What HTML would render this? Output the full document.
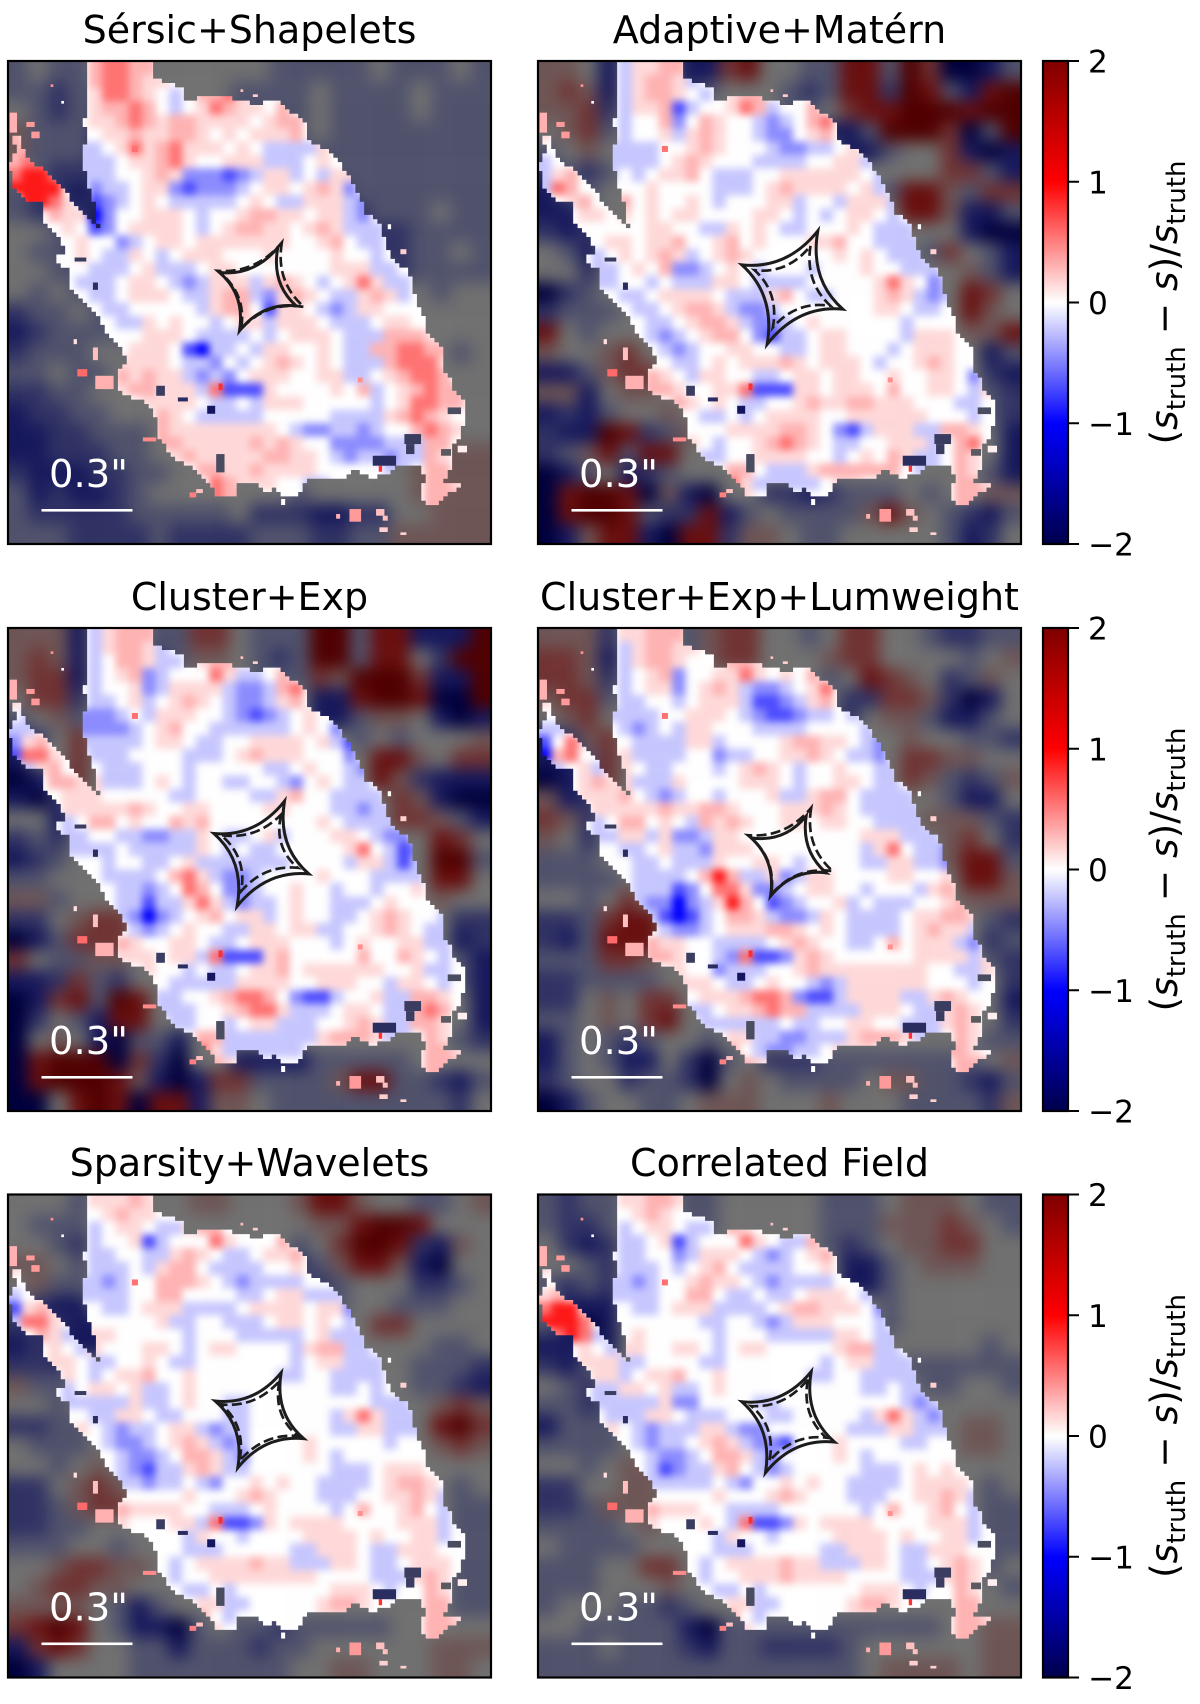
<!DOCTYPE html>
<html lang="en">
<head>
<meta charset="utf-8">
<title>Source residual maps</title>
<style>
html,body{margin:0;padding:0;background:#fff;width:1200px;height:1704px;overflow:hidden}
svg{display:block}
text{font-family:"DejaVu Sans","Liberation Sans",sans-serif}
.title{font-size:38px;fill:#000;text-anchor:middle}
.bar-text{font-size:38.5px;fill:#fff}
.tick{font-size:31.2px;fill:#000}
.axis-label{font-size:37.5px;fill:#000;text-anchor:middle}
.frame{fill:none;stroke:#000;stroke-width:2.2}
</style>
</head>
<body>
<svg id="figure" xmlns="http://www.w3.org/2000/svg" width="1200" height="1704" viewBox="0 0 1200 1704">
<defs>
<filter id="blur-bg" filterUnits="userSpaceOnUse" x="-200" y="-200" width="1850" height="1850" color-interpolation-filters="sRGB"><feGaussianBlur stdDeviation="24"/></filter>
<filter id="blur-fg" filterUnits="userSpaceOnUse" x="-200" y="-200" width="1850" height="1850" color-interpolation-filters="sRGB"><feGaussianBlur stdDeviation="12"/></filter>
<clipPath id="panel-clip"><rect x="0" y="0" width="1450" height="1450"/></clipPath>
<clipPath id="source-clip"><polygon id="source-outline" points="235,5 440,5 438,50 485,68 530,85 535,125 565,112 590,100 690,115 730,118 735,140 770,125 820,125 840,150 890,175 895,235 960,265 1000,310 1035,365 1065,430 1070,465 1110,470 1120,510 1140,560 1150,590 1200,630 1215,670 1230,740 1255,770 1260,815 1305,870 1310,930 1330,960 1340,990 1375,1020 1365,1110 1340,1150 1335,1190 1325,1240 1310,1262 1360,1275 1310,1310 1275,1340 1240,1310 1250,1250 1230,1210 1175,1215 1135,1240 1095,1250 1040,1230 1010,1255 900,1255 870,1300 830,1305 800,1280 770,1295 740,1265 690,1265 690,1300 630,1310 600,1260 550,1215 500,1195 450,1130 440,1045 405,1020 340,1000 325,930 355,905 345,870 300,825 270,760 180,680 180,620 145,610 145,580 175,580 160,545 130,500 110,480 110,425 60,425 10,380 5,300 25,265 10,235 45,215 35,245 60,295 100,320 150,370 215,445 250,480 290,520 262,480 262,430 240,370 222,300 220,265 245,235 230,190 240,60"/></clipPath>
<g id="source-specks">
<rect x="262" y="945" width="55" height="40" fill="#ffb0b0"/>
<rect x="208" y="925" width="30" height="22" fill="#ff6a6a"/>
<rect x="1025" y="1345" width="35" height="38" fill="#ff9a9a"/>
<rect x="1105" y="1345" width="25" height="20" fill="#ffc0c0"/>
<rect x="1125" y="1365" width="15" height="15" fill="#ffc0c0"/>
<rect x="1115" y="1400" width="25" height="14" fill="#ffd0d0"/>
<rect x="1178" y="1415" width="18" height="8" fill="#ffd0d0"/>
<rect x="985" y="1360" width="12" height="14" fill="#ffb0b0"/>
<rect x="55" y="183" width="25" height="15" fill="#ff9a9a"/>
<rect x="70" y="212" width="25" height="20" fill="#ff9a9a"/>
<rect x="5" y="155" width="22" height="60" fill="#ffb0b0"/>
<rect x="405" y="1130" width="40" height="12" fill="#ff8a8a"/>
<rect x="545" y="1295" width="20" height="15" fill="#ff8080"/>
<rect x="565" y="1285" width="20" height="12" fill="#ffc0c0"/>
<rect x="820" y="1315" width="12" height="18" fill="#ffffff"/>
<rect x="1140" y="490" width="10" height="15" fill="#ffffff"/>
<rect x="1178" y="565" width="18" height="15" fill="#ffd0d0"/>
<rect x="197" y="835" width="10" height="15" fill="#ffe0e0"/>
<rect x="255" y="860" width="15" height="38" fill="#ffc0c0"/>
<rect x="1350" y="1155" width="28" height="20" fill="#ffeeee"/>
<rect x="128" y="70" width="8" height="8" fill="#ff9090"/>
<rect x="160" y="120" width="8" height="8" fill="#ffffff"/>
<rect x="698" y="85" width="8" height="8" fill="#ffc0c0"/>
<rect x="735" y="100" width="15" height="8" fill="#ffd0d0"/>
<rect x="632" y="968" width="12" height="20" fill="#ff3030"/>
<rect x="1113" y="1215" width="10" height="18" fill="#ff3030"/>
<rect x="1050" y="950" width="15" height="15" fill="#ff9090"/>
<rect x="372" y="255" width="18" height="18" fill="#ff7070"/>
<rect x="445" y="975" width="26" height="30" fill="#3a3d60"/>
<rect x="510" y="1010" width="30" height="12" fill="#2a2d60"/>
<rect x="598" y="1035" width="24" height="24" fill="#151560"/>
<rect x="1190" y="1120" width="50" height="30" fill="#3a3d60"/>
<rect x="1195" y="1150" width="25" height="30" fill="#3a3d60"/>
<rect x="1095" y="1185" width="70" height="30" fill="#2a2d60"/>
<rect x="625" y="1180" width="25" height="55" fill="#4a4c60"/>
<rect x="200" y="590" width="35" height="12" fill="#3a3d60"/>
<rect x="255" y="665" width="15" height="22" fill="#2a2d60"/>
<rect x="1320" y="1040" width="40" height="20" fill="#4a4c60"/>
<rect x="1300" y="1165" width="30" height="20" fill="#5a5a60"/>
</g>
<linearGradient id="seismic-gradient" x1="0" y1="0" x2="0" y2="1">
<stop offset="0" stop-color="#7f0000"/>
<stop offset="0.25" stop-color="#ff0000"/>
<stop offset="0.5" stop-color="#ffffff"/>
<stop offset="0.75" stop-color="#0000ff"/>
<stop offset="1" stop-color="#00004c"/>
</linearGradient>
</defs>

<g id="panel-layer"></g>

<text class="title" x="249.5" y="43">Sérsic+Shapelets</text>
<text class="title" x="779.5" y="43">Adaptive+Matérn</text>
<text class="title" x="249.5" y="610">Cluster+Exp</text>
<text class="title" x="779.5" y="610">Cluster+Exp+Lumweight</text>
<text class="title" x="249.5" y="1176">Sparsity+Wavelets</text>
<text class="title" x="779.5" y="1176">Correlated Field</text>

<text class="bar-text" x="49" y="487">0.3"</text>
<text class="bar-text" x="579" y="487">0.3"</text>
<text class="bar-text" x="49" y="1054">0.3"</text>
<text class="bar-text" x="579" y="1054">0.3"</text>
<text class="bar-text" x="49" y="1620.5">0.3"</text>
<text class="bar-text" x="579" y="1620.5">0.3"</text>

<g id="colorbar-layer"></g>

<g transform="translate(1177,302.5) rotate(-90)"><text class="axis-label">(<tspan font-style="italic">s</tspan><tspan font-size="26" dy="8">truth</tspan><tspan dy="-8"> − </tspan><tspan font-style="italic">s</tspan>)/<tspan font-style="italic">s</tspan><tspan font-size="26" dy="8">truth</tspan></text></g>
<g transform="translate(1177,869.5) rotate(-90)"><text class="axis-label">(<tspan font-style="italic">s</tspan><tspan font-size="26" dy="8">truth</tspan><tspan dy="-8"> − </tspan><tspan font-style="italic">s</tspan>)/<tspan font-style="italic">s</tspan><tspan font-size="26" dy="8">truth</tspan></text></g>
<g transform="translate(1177,1436) rotate(-90)"><text class="axis-label">(<tspan font-style="italic">s</tspan><tspan font-size="26" dy="8">truth</tspan><tspan dy="-8"> − </tspan><tspan font-style="italic">s</tspan>)/<tspan font-style="italic">s</tspan><tspan font-size="26" dy="8">truth</tspan></text></g>
</svg>

<script>
// Colour-scale ticks and cell code levels
const colorbarTicks = [-2, -1, 0, 1, 2];
const tickLabels = ["\u22122", "\u22121", "0", "1", "2"];
const sourceLevels = [-1, -0.7, -0.45, -0.22, 0, 0.15, 0.3, 0.55, 0.9];
const skyLevels = [-3, -2, -1.4, -0.7, 0, 0.7, 1.4, 2, 3];

// Sky (outside the source mask) residual codes, 24 x 24
const skySersic = ["343344444444433333433343","332334444443333433334333","432333444443333433334333","533323444443333433333333","533322444444333333333333","432222444444432333333333","322122444444444223333333","322212444444444422333433","443212444444444442223333","433221444444444444223343","443322444444444444423333","434332344444444444444344","233433444444444444444444","123333444444444444444444","233344344444444444444434","334334444444444444444444","223344444444444444444444","122334444444444444444444","112233344444444444444544","112223344444444444445555","211122334444444444445555","312112344444443444445555","322222333334222112244555","333222232222333223355555"];
const skyAdaptive = ["554144411674433773860013","565144423444323772873178","556244444444334677888788","456344444444441138886038","345444444444444113446101","232344444444444444446631","133444444444444443775366","113444444444444444775113","212444444444444444444100","431444444444444444436431","442444444444444444444531","023444444444444444444764","233344444444444444444754","743444444444444444444557","544564444444444444444413","113566444444444444444421","551455444444444444444432","121344544444444444444432","211872354444444444444441","235737744444444444444441","013412344444444444444431","078870510442212333434455","078873227134333357543213","015771077255433444443124"];
const skyCluster = ["555144433664333883771118","565144423554323883774288","566144444444333658886118","466244444444444117887008","345344444444444113554101","124644444444444443434445","144644444444444444775466","013644444444444444752111","102444444444444444465100","441444444444444444466531","232444444444444444444764","123444444444444444444883","334444444444444444444774","553444444444444444444544","224566444444444444444422","013666444444444444444412","643355444444444444444431","112632444444444444444431","016738744444444444444441","024317744444444444444441","045410331444444444444432","078880620441111333334444","078887510166333357733213","004787077155433333333324"];
const skyLumweight = ["555244435664434664432233","665144435664445664444345","665244444444443476542 35","566344444444444226652014","456444444444443245531 13","125644444444444444544332","113644444444444444665544","012644444444444444653235","512444444444444444443114","652444444444444444455532","542444444444444444445642","333444444444444444445773","333344444444444444444775","443464444444444444444555","223677444444444444444432","213777444444444444444423","333665444444444444444432","223333444444444444444442","224546644444444444444441","334546744444444444444442","134323443444444444444433","134311420342223333333345","234423320454333345533213","013443345554445444333325"];
const skySparsity = ["444344444554445775443345","433344444444444557887444","443244444444443468872 15","554344444444442357751 04","453344444444443234442 23","321144444444444434433344","222114444444444444664444","121114444444444444444334","222444444444444444443332","533444444444444444443321","443444444444444444444565","223344444444444444444786","433344444444444444444565","443454444444444444444444","224565444444444444444434","223566444444444444444433","223344444444444444444433","333443444444444444444433","445665544444444444444433","456655444444444444444433","555543134444444444444433","678743110343323333344444","167644331333233444444555","014444333333334455444554"];
const skyCorrelated = ["323344433444443334555433","322344433444443335556543","421244444444443234556644","443244444444444113455544","323244444444444113444444","411144444444444443444444","310144444444444443444444","112144444444444444444434","213344444444444444333333","432444444444444444433443","332344444444444444444444","133344444444444444444554","333344444444444444444554","443455444444444444444444","224455444444444444444434","223555444444444444444433","333345444444444444444433","433334444444444444444433","333446644444444444444434","333444544444444444444443","344433234444444444444444","443333310333333333334455","333433321332222344444455","333333333333333345555455 4"];

// Source (inside the mask) residual codes, 36 x 36
const sourceSersic = ["44444467766","444444677655","44444457765434667544","444444566764345765546","4444445567656655554566","644444455655665454 5556","664443345756755545433335","677443334556754455533345","7887433344565222123553 4355","888844233455212223455456 52","48875412345433333454335553 2","4446550244555434456655455 32","444454124555543456655456 5333","44444544234554555555544564334","44444543354345554445444454434","44444433345333455444444455 5334","444443334554323555356543457533 4","444444334555433566325654335653 4","444444433444443566415543235544 4","444444443354544345535554333455 44","444444444455543333434555433366 65","444444444555410334355445433667 766","444444445555433243456545433367 775","444444446565532324555445533456 776","444444445665553711154444546345 6766","444444444455554334355544444345 7766","444444444446543333344444333356 765","444444444446555555554322332344 6765","444444444446655555656544222233 366","444444444444565555566554323323 365","444444444444446655655554444433 466","444444444444444765554433444444 4665","444444444444444766444444444444 4666","444444444444444444444444444444466"];
const sourceAdaptive = ["44444435566","444444356653","44444435665434566444","444444355613445763446","4444443446246544323467","5444443445356544322456","4444433334456544432233 45","3444433334565444333344553","3564434345564333445555 5543","3764444454444333456555 5453","4456446454454344455344 35553","4445545454554444554343 45543","4444444455443354543344454333","4444455455644564544455 6443333","4444345456534565444444 5454333","4444334546223454344 43444544333","444433443433355433334444457542 3","444444334555543335643344456532 3","444444433456653223444444455433 4","444444443345665322345444444344 44","444444443234566421334554444355 54","444444444323445544334554443455 544","444444444433454555654555434456 544","444444446543554433455455445445 542","444444446654455711155455546445 5435","444444444465454334456556655544 4334","444444444444334345555445555554 4434","444444444444445555665421355533 6654","444444444445434456765433445553 467","444444444444334455554434546533 465","444444444444446643335666666433 465","444444444444447533333455444444 4665","444444444444447544444444444444 4666","444444444444444444444444444444466"];
const sourceCluster = ["44444435666","444444356653","44444434665334566444","444444345623444753346","4444443445235555322367","5444443345345654322356","4344422234355544321234 54","3344422223456443333334542","2564433333455433445555 4531","1775443334444333456555 4442","4356444333444344444334 54432","4446655333454344334432 45433","4444555444443344443356443333","4444555556544554444554 4433233","4444346645446564444444 4543333","4444334433223354334534 44554322","444433334333335434334444457431 2","444444434433453333333444435531 3","444444433334675322344445444333 3","444444443323476422344544344344 54","444444443313357532334544333454 44","444444443202345645534544334565 443","444444444323454433554553344565 433","444444446544554334555444345445 533","444444445554553711156444446446 5434","444444444454434334556455555544 5334","444444444444333335555445554435 5434","444444444443344567764211344533 6654","444444444443334456775333455433 676","444444444444334434553334456533 665","444444444444446633333335666533 465","444444444444447533333345554444 4665","444444444444447654444444444444 4666","444444444444444444444444444444466"];
const sourceLumweight = ["44444455666","444444356655","44444435665444665444","444444345624455754546","4444443455245653223457","5444443344345553112356","4444433334455543211233 43","3344443234355444333344443","1475444333355344445665 5432","0674445333344233445565 4332","4345345433444345654344 54433","4445655333544445554344 55433","4445556432344344453356643333","4444555556556654445556 5433333","4444346645436565445545 5443333","4444335535223554444444 44555333","444444334533255544444444 357433 2","444444433433354455434444335533 2","444444433334686335235544445544 5","444444433312477522345544344435 65","444444432202358641234453433344 56","444444443101346653223543333455 665","444444444322345556654543333456 553","444444446554433334565443346455 532","444444446654432711256544444455 5535","444444444454423334456555555554 4335","444444444455543345443235555554 4434","444444444444555677621135555335 654","444444444443345567663333555433 565","444444444444333333433445544333 565","444444444444445533223335666533 465","444444444444446432233455544444 665","444444444444447654444444444444 4666","444444444444444444444444444444466"];
const sourceSparsity = ["44444455565","444444456554","44444434554335664444","444444344513444754446","4444443344335654334556","5444443334356643333445","4444433234466654323333 44","3444433334466444433455333","1565444334555333345555 4552","3775444444453344333455 4543","4465345544444344433333 45333","4445435444554345544443 56633","4445543344543344444443455333","4444543455644544444433 4433334","4444345545334544444444 4433434","4444333335334544334444 44444333","444444335543344433444444357533 3","444445432334553233444444335533 3","444444432234565323444454444434 4","444444443223466532444454344444 44","444444443213356533444444333455 54","444444443323343244545443333456 654","444444444444454445654443334455 653","444444446555544333454444346445 643","444444445444553711254555544445 5534","444444444444435443444455554544 5534","444444444444433344444335554335 5544","444444444444345555655333554334 5554","444444444444344555555554444333 565","444444444444433434444444555434 465","444444444444445533444445665444 466","444444444444446434444445554444 4665","444444444444446544444444444444 4666","444444444444444444444444444444466"];
const sourceCorrelated = ["44444455665","444444456544","44444434554334654444","444444334513444754336","4444443344235554323456","5444443334345643333445","4444433234456554323333 44","5654433334466433433455543","7885444334555333345665 5542","8887444444443344323555 4443","4787344544444344433333 55433","4445435544554345544444 56633","4445553344443344444443455333","4444553455644544444433 4433333","4444335545334544444444 4433433","4444333335224444334444 44444323","444443335543334443344444357532 3","444445432333553224444443335533 3","444444432334565322144454444334 4","444444443223466532444454344444 44","444444443123356432344444333454 54","444444443333343244545443333455 554","444444444444454445654443334455 653","444444446555443333444444346445 643","444444445444543711254555544445 5534","444444444444435443444455554544 5534","444444444444433344444335554335 5544","444444444444345555655333554334 5654","444444444444344555655554444333 565","444444444444433434444444555434 465","444444444444445533444445665444 466","444444444444446434444445554444 4665","444444444444446544444444444444 4666","444444444444444444444444444444466"];

// Panel wiring: which grids go where, and the lens caustic shape for each model
const panelNames = ["sersic-shapelets", "adaptive-matern", "cluster-exp", "cluster-exp-lumweight", "sparsity-wavelets", "correlated-field"];
const panelSky = [skySersic, skyAdaptive, skyCluster, skyLumweight, skySparsity, skyCorrelated];
const panelSource = [sourceSersic, sourceAdaptive, sourceCluster, sourceLumweight, sourceSparsity, sourceCorrelated];
const causticSolid = [
  [[810,560],[865,735],[695,810],[635,635]],
  [[840,510],[915,745],[688,850],[612,612]],
  [[830,520],[903,738],[688,835],[618,617]],
  [[805,565],[865,735],[698,805],[640,630]],
  [[820,535],[888,733],[690,820],[622,620]],
  [[820,532],[890,743],[683,835],[612,622]]
];
const causticDashed = [
  [[822,545],[888,738],[700,805],[630,630]],
  [[818,555],[878,735],[705,800],[650,628]],
  [[820,560],[870,720],[700,790],[640,622]],
  [[820,540],[885,730],[700,800],[630,622]],
  [[815,560],[870,725],[695,800],[640,630]],
  [[810,555],[865,730],[695,800],[640,635]]
];

const SVG_NS = "http://www.w3.org/2000/svg";
const PANEL_UNITS = 1450;
const PANEL_PX = 483;
const MASK_PIXEL = 13.2;
const panelLeft = [8, 538];
const panelTop = [61, 628, 1194.5];
const COLORBAR_X = 1043;
const COLORBAR_W = 25;

function mk(tag, attrs) {
  const el = document.createElementNS(SVG_NS, tag);
  for (const k in attrs) el.setAttribute(k, attrs[k]);
  return el;
}
function seismic(v) {
  const t = Math.min(Math.abs(v), 2);
  if (t <= 1) {
    const c = Math.round(255 * (1 - t));
    return v < 0 ? `rgb(${c},${c},255)` : `rgb(255,${c},${c})`;
  }
  return v < 0 ? `rgb(0,0,${Math.round(255 - 178.5 * (t - 1))})` : `rgb(${Math.round(255 - 127.5 * (t - 1))},0,0)`;
}
function skyColor(v) {
  const stops = [[-3,0,0,60],[-2,22,24,92],[-1.4,48,50,100],[-0.7,80,82,108],[0,112,112,112],[0.7,110,85,85],[1.4,112,50,50],[2,105,15,15],[3,80,0,0]];
  const c = Math.max(-3, Math.min(3, v));
  for (let i = 1; i < stops.length; i++) {
    if (c <= stops[i][0]) {
      const a = stops[i - 1], b = stops[i], t = (c - a[0]) / (b[0] - a[0]);
      return `rgb(${Math.round(a[1] + (b[1] - a[1]) * t)},${Math.round(a[2] + (b[2] - a[2]) * t)},${Math.round(a[3] + (b[3] - a[3]) * t)})`;
    }
  }
  return "rgb(80,0,0)";
}
function drawGrid(parent, rawRows, n, levels, colorFn, cellName) {
  const rows = rawRows.map(r => r.replace(/ /g, ""));
  const size = PANEL_UNITS / n;
  for (let j = 0; j < n; j++) {
    const row = rows[j] || "";
    for (let i = 0; i < n; i++) {
      const ch = row[i] === undefined ? "4" : row[i];
      const value = levels[+ch];
      const x0 = i === 0 ? -120 : i * size;
      const x1 = i === n - 1 ? PANEL_UNITS + 120 : (i + 1) * size;
      const y0 = j === 0 ? -120 : j * size;
      const y1 = j === n - 1 ? PANEL_UNITS + 120 : (j + 1) * size;
      const cell = mk("rect", {x: x0, y: y0, width: x1 - x0 + 0.5, height: y1 - y0 + 0.5, fill: colorFn(value)});
      
      
      parent.appendChild(cell);
    }
  }
}
function causticPath(cusps) {
  const cx = cusps.reduce((s, p) => s + p[0], 0) / 4;
  const cy = cusps.reduce((s, p) => s + p[1], 0) / 4;
  const k = 0.55;
  let d = `M${cusps[0][0]} ${cusps[0][1]}`;
  for (let i = 0; i < 4; i++) {
    const a = cusps[i], b = cusps[(i + 1) % 4];
    const qx = (a[0] + b[0]) / 2 * (1 - k) + cx * k;
    const qy = (a[1] + b[1]) / 2 * (1 - k) + cy * k;
    d += ` Q${qx} ${qy} ${b[0]} ${b[1]}`;
  }
  return d + "Z";
}
// Turn the smooth source outline into the stair-stepped edge of a pixel mask.
function pixelateMask() {
  const outline = document.getElementById("source-outline");
  const pts = outline.getAttribute("points").trim().split(/\s+/).map(p => p.split(",").map(Number));
  const inside = (x, y) => {
    let hit = false;
    for (let i = 0, j = pts.length - 1; i < pts.length; j = i++) {
      const a = pts[i], b = pts[j];
      if ((a[1] > y) !== (b[1] > y) && x < (b[0] - a[0]) * (y - a[1]) / (b[1] - a[1]) + a[0]) hit = !hit;
    }
    return hit;
  };
  const n = Math.ceil(PANEL_UNITS / MASK_PIXEL);
  let d = "";
  for (let j = 0; j < n; j++) {
    const y = j * MASK_PIXEL, yc = y + MASK_PIXEL / 2;
    let start = -1;
    for (let i = 0; i <= n; i++) {
      const on = i < n && inside((i + 0.5) * MASK_PIXEL, yc);
      if (on && start < 0) start = i;
      if (!on && start >= 0) {
        d += `M${start * MASK_PIXEL} ${y}H${i * MASK_PIXEL}V${y + MASK_PIXEL + 0.2}H${start * MASK_PIXEL}Z`;
        start = -1;
      }
    }
  }
  const path = mk("path", {d: d});
  outline.parentNode.replaceChild(path, outline);
}
pixelateMask();

const panelLayer = document.getElementById("panel-layer");
const scale = PANEL_PX / PANEL_UNITS;
panelNames.forEach((name, p) => {
  const col = p % 2, row = Math.floor(p / 2);
  const px = panelLeft[col], py = panelTop[row];

  const panel = mk("g", {transform: `translate(${px},${py}) scale(${scale})`, "clip-path": "url(#panel-clip)"});
  
  

  const sky = mk("g", {filter: "url(#blur-bg)"});
  
  
  drawGrid(sky, panelSky[p], 24, skyLevels, skyColor, 'sky-residual-cell');
  panel.appendChild(sky);

  const clip = mk("g", {"clip-path": "url(#source-clip)"});
  
  
  const source = mk("g", {filter: "url(#blur-fg)"});
  
  
  drawGrid(source, panelSource[p], 36, sourceLevels, seismic, 'source-residual-cell');
  clip.appendChild(source);
  panel.appendChild(clip);

  const specks = mk("use", {href: "#source-specks"});
  
  
  panel.appendChild(specks);

  const solid = mk("path", {d: causticPath(causticSolid[p]), fill: "none", stroke: "#1c1c1c", "stroke-width": 9, "stroke-linejoin": "miter", "stroke-miterlimit": 12});
  
  
  panel.appendChild(solid);

  const dashed = mk("path", {d: causticPath(causticDashed[p]), fill: "none", stroke: "#1c1c1c", "stroke-width": 8, "stroke-dasharray": "30 13"});
  
  
  panel.appendChild(dashed);

  panelLayer.appendChild(panel);

  const bar = mk("rect", {x: px + 33.5, y: py + 448, width: 91, height: 2.6, fill: "#fff"});
  
  
  panelLayer.appendChild(bar);

  const frame = mk("rect", {x: px, y: py, width: PANEL_PX, height: PANEL_PX, class: "frame"});
  
  
  panelLayer.appendChild(frame);
});

const colorbarLayer = document.getElementById("colorbar-layer");
panelTop.forEach(top => {
  const cbY = v => top + (2 - v) / 4 * PANEL_PX;
  const ramp = mk("rect", {x: COLORBAR_X, y: top, width: COLORBAR_W, height: PANEL_PX, fill: "url(#seismic-gradient)", stroke: "#000", "stroke-width": 2.2});
  
  
  colorbarLayer.appendChild(ramp);
  colorbarTicks.forEach((v, i) => {
    const y = cbY(v);
    const mark = mk("line", {x1: COLORBAR_X + COLORBAR_W, x2: COLORBAR_X + COLORBAR_W + 11, y1: y, y2: y, stroke: "#000", "stroke-width": 2});
    
    
    colorbarLayer.appendChild(mark);
    const label = mk("text", {x: COLORBAR_X + COLORBAR_W + 20, y: y + 11.5, class: "tick"});
    
    
    label.textContent = tickLabels[i];
    colorbarLayer.appendChild(label);
  });
});
</script>
</body>
</html>
